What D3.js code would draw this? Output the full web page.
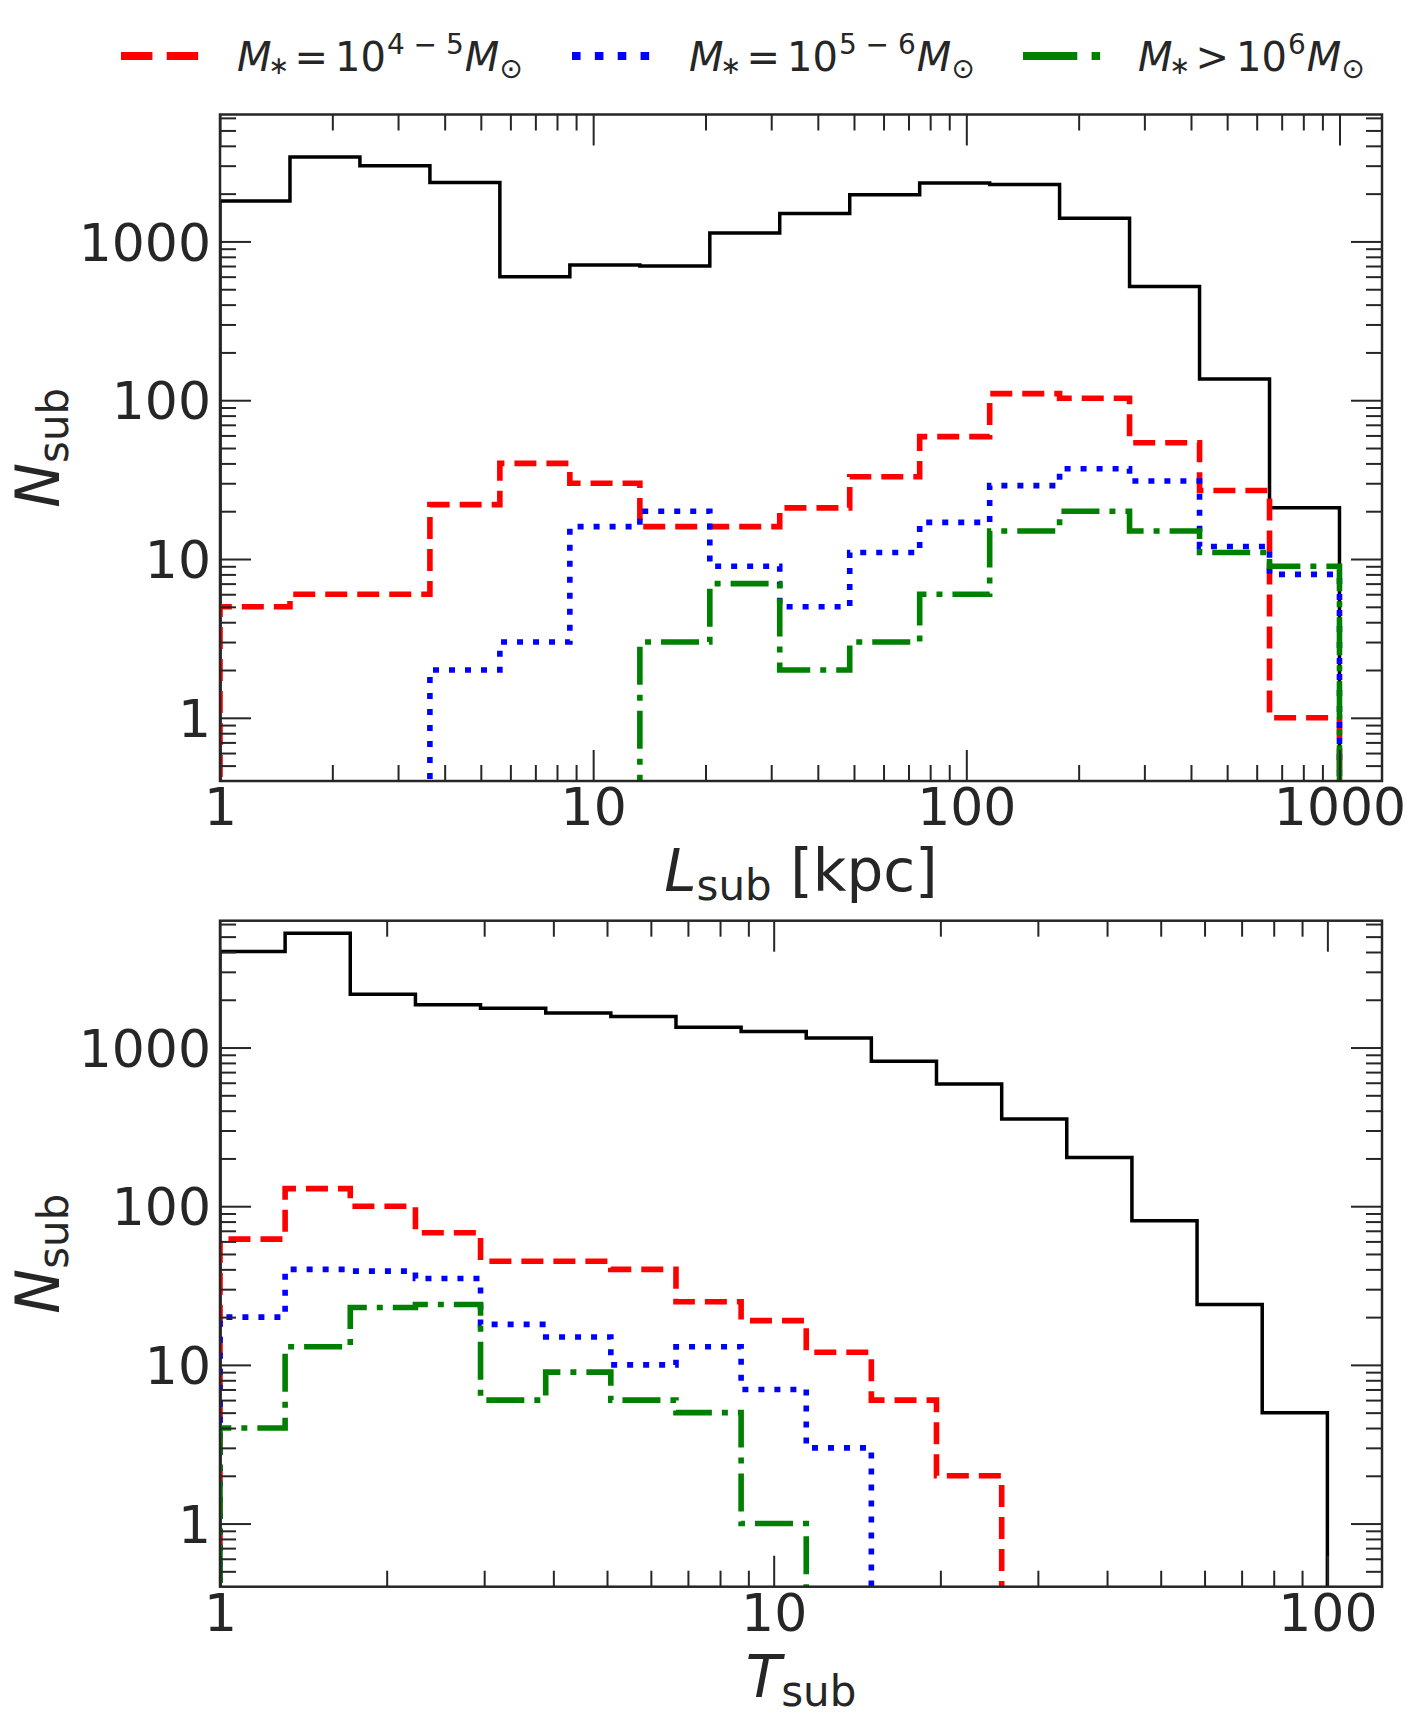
<!DOCTYPE html>
<html>
<head>
<meta charset="utf-8">
<script src="https://cdn.jsdelivr.net/npm/d3@7"></script>
<style>
  body { margin: 0; background: #ffffff; }
  text { font-family: "DejaVu Sans", sans-serif; fill: #262626; }
</style>
</head>
<body>
<div id="chart"></div>
<script>

// Data: histogram bin edges and counts

// top panel, L_sub [kpc], 16 log bins from 1 to 1000
var lEdges = [1, 1.540, 2.371, 3.652, 5.623, 8.660, 13.34, 20.54, 31.62, 48.70, 74.99, 115.5, 177.8, 273.8, 421.7, 649.4, 1000];
var lAll    = [1800, 3400, 3000, 2350, 600, 710, 700, 1130, 1500, 1970, 2330, 2280, 1400, 520, 136, 21];
var lLow    = [5, 6, 6, 22, 40, 30, 16, 16, 21, 33, 59, 110, 103, 54, 27, 1];
var lMid    = [0, 0, 0, 2, 3, 16, 20, 9, 5, 11, 17, 29, 37, 31, 12, 8];
var lHigh   = [0, 0, 0, 0, 0, 0, 3, 7, 2, 3, 6, 15, 20, 15, 11, 9];

// bottom panel, T_sub, 17 log bins from 1 to 100
var tEdges = [1, 1.311, 1.719, 2.254, 2.955, 3.875, 5.080, 6.661, 8.733, 11.45, 15.01, 19.68, 25.81, 33.83, 44.36, 58.16, 76.26, 100];
var tAll    = [4030, 5260, 2170, 1860, 1770, 1650, 1570, 1340, 1260, 1150, 820, 590, 355, 203, 81, 24, 5];
var tLow    = [62, 129, 100, 68, 45, 45, 40, 25, 19, 12, 6, 2, 0, 0, 0, 0, 0];
var tMid    = [20, 40, 39, 35, 18, 15, 10, 13, 7, 3, 0, 0, 0, 0, 0, 0, 0];
var tHigh   = [4, 13, 23, 24, 6, 9, 6, 5, 1, 0, 0, 0, 0, 0, 0, 0, 0];

// y tick labels (same on both panels)
var yMajor = [1, 10, 100, 1000];

var svgWidth = 1423;
var svgHeight = 1725;

var svg = d3.select("#chart")
  .append("svg")
  .attr("width", svgWidth)
  .attr("height", svgHeight);

// style of each series
var styles = [
  {color: "black", width: 3.5, dash: null},
  {color: "red",   width: 5.6, dash: "22,10"},
  {color: "blue",  width: 5.6, dash: "6,10"},
  {color: "green", width: 5.6, dash: "38,10,6,10"}
];

var panels = [
  {id: "top", top: 114.5, bottom: 781, xMax: 1300, edges: lEdges,
   series: [lAll, lLow, lMid, lHigh], xMajor: [1, 10, 100, 1000], label: "L", unit: " [kpc]", labelY: 891},
  {id: "bot", top: 920.7, bottom: 1586.7, xMax: 125.5, edges: tEdges,
   series: [tAll, tLow, tMid, tHigh], xMajor: [1, 10, 100], label: "T", unit: "", labelY: 1697}
];

var left = 220;
var right = 1382;

// minor ticks 2..9 per decade inside the domain
function minorTicks(lo, hi) {
  var out = [];
  for (var p = -1; p <= 4; p++) {
    for (var m = 2; m <= 9; m++) {
      var v = m * Math.pow(10, p);
      if (v > lo && v < hi) out.push(v);
    }
  }
  return out;
}

panels.forEach(function(pn) {
  var x = d3.scaleLog().domain([1, pn.xMax]).range([left, right]);
  var y = d3.scaleLog().domain([0.4, 6300]).range([pn.bottom, pn.top]);
  var h = pn.bottom - pn.top;
  var w = right - left;

  var g = svg.append("g");

  // clip lines to axes box
  svg.append("clipPath")
    .attr("id", "clip-" + pn.id)
    .append("rect")
    .attr("x", left).attr("y", pn.top)
    .attr("width", w).attr("height", h);

  var lineGroup = g.append("g").attr("clip-path", "url(#clip-" + pn.id + ")");

  pn.series.forEach(function(vals, i) {
    // step outline like histtype='step'
    var yOf = function(v) { return v > 0 ? y(v) : pn.bottom + 60; };
    var pts = [[x(pn.edges[0]), pn.bottom + 60]];
    vals.forEach(function(v, k) {
      pts.push([x(pn.edges[k]), yOf(v)]);
      pts.push([x(pn.edges[k + 1]), yOf(v)]);
    });
    pts.push([x(pn.edges[pn.edges.length - 1]), pn.bottom + 60]);

    var st = styles[i];
    lineGroup.append("path")
      .attr("d", d3.line()(pts))
      .attr("fill", "none")
      .attr("stroke", st.color)
      .attr("stroke-width", st.width)
      .attr("stroke-linejoin", "miter")
      .attr("stroke-linecap", "butt")
      .attr("stroke-dasharray", st.dash);
  });

  var xMinor = minorTicks(1, pn.xMax);
  var yMinor = minorTicks(0.4, 6300);

  // bottom axis, major with labels
  var xAxis = g.append("g")
    .attr("transform", `translate(0, ${pn.bottom})`)
    .call(d3.axisBottom(x).tickValues(pn.xMajor).tickFormat(d3.format("d")).tickSize(-31).tickPadding(7));
  xAxis.selectAll("text").attr("font-size", 52).attr("fill", "#262626");

  g.append("g")
    .attr("transform", `translate(0, ${pn.bottom})`)
    .call(d3.axisBottom(x).tickValues(xMinor).tickFormat("").tickSize(-16));

  // top axis, ticks only
  g.append("g")
    .attr("transform", `translate(0, ${pn.top})`)
    .call(d3.axisTop(x).tickValues(pn.xMajor).tickFormat("").tickSize(-31));
  g.append("g")
    .attr("transform", `translate(0, ${pn.top})`)
    .call(d3.axisTop(x).tickValues(xMinor).tickFormat("").tickSize(-16));

  // left axis
  var yAxis = g.append("g")
    .attr("transform", `translate(${left}, 0)`)
    .call(d3.axisLeft(y).tickValues(yMajor).tickFormat(d3.format("d")).tickSize(-31).tickPadding(9));
  yAxis.selectAll("text").attr("font-size", 52).attr("dy", "0.36em").attr("fill", "#262626");

  g.append("g")
    .attr("transform", `translate(${left}, 0)`)
    .call(d3.axisLeft(y).tickValues(yMinor).tickFormat("").tickSize(-16));

  // right axis
  g.append("g")
    .attr("transform", `translate(${right}, 0)`)
    .call(d3.axisRight(y).tickValues(yMajor).tickFormat("").tickSize(-31));
  g.append("g")
    .attr("transform", `translate(${right}, 0)`)
    .call(d3.axisRight(y).tickValues(yMinor).tickFormat("").tickSize(-16));

  g.selectAll(".domain").remove();
  g.selectAll(".tick line").attr("stroke", "#262626").attr("stroke-width", 2);

  // frame
  g.append("rect")
    .attr("x", left).attr("y", pn.top)
    .attr("width", w).attr("height", h)
    .attr("fill", "none")
    .attr("stroke", "#262626")
    .attr("stroke-width", 2.5);

  // y label N_sub
  var yl = g.append("text")
    .attr("transform", `translate(59, ${(pn.top + pn.bottom) / 2}) rotate(-90)`)
    .attr("text-anchor", "middle");
  yl.append("tspan").attr("font-size", 60).attr("font-style", "italic").text("N");
  yl.append("tspan").attr("font-size", 42).attr("dy", 9).text("sub");

  // x label
  var xl = g.append("text")
    .attr("x", 801)
    .attr("y", pn.labelY)
    .attr("text-anchor", "middle");
  xl.append("tspan").attr("font-size", 58).attr("font-style", "italic").text(pn.label);
  xl.append("tspan").attr("font-size", 42).attr("dy", 9).text("sub");
  if (pn.unit) {
    xl.append("tspan").attr("font-size", 58).attr("dy", -9).text(pn.unit);
  }
});

// legend
var legendItems = [
  {style: styles[1], x: 121, tx: 237, rel: "=", sup: "4 − 5"},
  {style: styles[2], x: 572, tx: 689, rel: "=", sup: "5 − 6"},
  {style: styles[3], x: 1023, tx: 1138, rel: ">", sup: "6"}
];

// width of a piece of text in the legend font
function textWidth(str, size, italic) {
  var tmp = svg.append("text")
    .attr("font-size", size)
    .attr("font-style", italic ? "italic" : null)
    .text(str);
  var wd = tmp.node().getComputedTextLength();
  tmp.remove();
  return wd;
}

var legend = svg.append("g");
legendItems.forEach(function(it) {
  var sc = 8 / it.style.width;
  legend.append("line")
    .attr("x1", it.x).attr("x2", it.x + 80)
    .attr("y1", 56).attr("y2", 56)
    .attr("stroke", it.style.color)
    .attr("stroke-width", 8)
    .attr("stroke-dasharray", it.style.dash.split(",").map(function(d) { return +d * sc; }).join(","));

  // mathtext-like pieces placed one after another
  var t = legend.append("text").attr("y", 71).attr("font-size", 40);
  var cx = it.tx;
  t.append("tspan").attr("x", cx).attr("font-style", "italic").text("M");
  cx += textWidth("M", 40, true) - 3;
  t.append("tspan").attr("x", cx).attr("y", 74).attr("font-size", 25).text("∗");
  cx += textWidth("∗", 25) + 5;
  t.append("tspan").attr("x", cx).attr("y", 71).text(it.rel);
  cx += textWidth(it.rel, 40) + 7;
  t.append("tspan").attr("x", cx).text("10");
  cx += textWidth("10", 40) + 1;
  t.append("tspan").attr("x", cx).attr("y", 54).attr("font-size", 28).text(it.sup);
  cx += textWidth(it.sup, 28) + 1;
  t.append("tspan").attr("x", cx).attr("y", 71).attr("font-style", "italic").text("M");
  cx += textWidth("M", 40, true);
  t.append("tspan").attr("x", cx).attr("y", 78).attr("font-size", 28).text("⊙");
});

</script>
</body>
</html>
